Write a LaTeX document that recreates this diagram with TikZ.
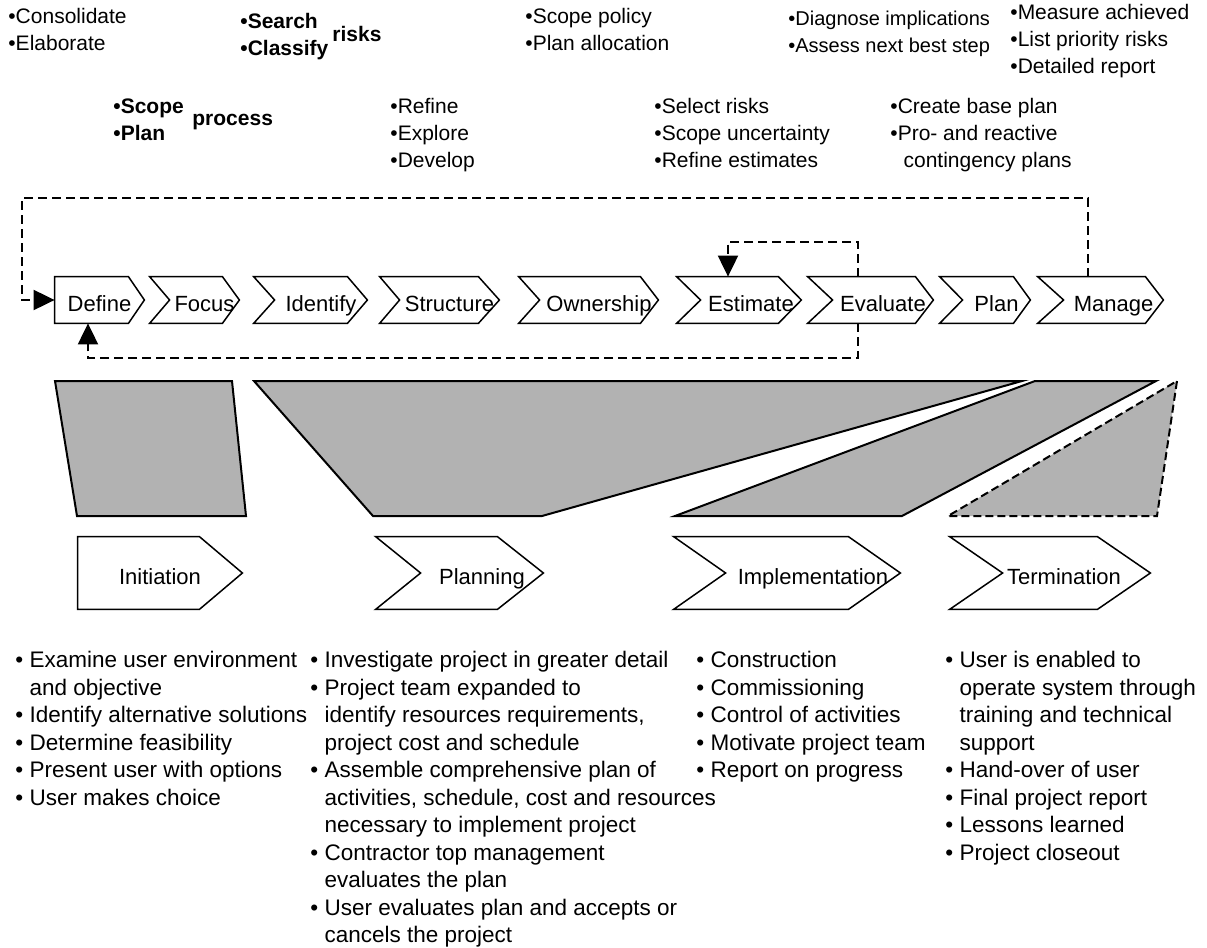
\documentclass[tikz,border=0pt]{standalone}
\usepackage{fontspec}
\setmainfont{Liberation Sans}
\usepackage{tikz}
\usetikzlibrary{arrows.meta}
\usepackage{xcolor}
\definecolor{phaseGray}{RGB}{178, 178, 178}

\begin{document}
\begin{tikzpicture}[
    x=0.5pt, y=-0.5pt,
    every node/.style={inner sep=0pt},
    chev/.style={minimum height=23pt, minimum width=#1, text height=11pt, text depth=0pt, font=\fontsize{11}{13}\selectfont},
    phasebox/.style={minimum height=36pt, minimum width=#1, text height=11pt, text depth=0pt, font=\fontsize{11}{13}\selectfont},
    chevline/.style={draw=black, line width=0.75pt, line join=miter},
    wedge/.style={draw=black, fill=phaseGray, line width=1pt, line join=miter},
    tasks/.style={anchor=north west, align=left, font=\fontsize{10.5}{13.5}\selectfont},
    duties/.style={anchor=north west, align=left, font=\fontsize{11.25}{13.75}\selectfont},
    feedback/.style={draw=black, line width=1pt, dash pattern=on 4.5pt off 2.5pt, -{Triangle[length=10.5pt, width=10pt]}},
]
\useasboundingbox (0,0) rectangle (1207,948);
% RISK MANAGEMENT TASKS
\node[tasks] (consolidate) at (8, 8) {•Consolidate\\•Elaborate};
\node[tasks, font=\fontsize{10.5}{13.5}\selectfont\bfseries] (search) at (240, 13) {•Search\\•Classify};
\node[anchor=base west, font=\fontsize{10.5}{13.5}\selectfont\bfseries] (risks) at (332, 41) {risks};
\node[tasks] (policy) at (525, 8) {•Scope policy\\•Plan allocation};
\node[tasks, font=\fontsize{10}{13.5}\selectfont] (diagnose) at (788, 11) {•Diagnose implications\\•Assess next best step};
\node[tasks] (measure) at (1010, 4) {•Measure achieved\\•List priority risks\\•Detailed report};
\node[tasks, font=\fontsize{10.5}{13.5}\selectfont\bfseries] (scope) at (113, 98) {•Scope\\•Plan};
\node[anchor=base west, font=\fontsize{10.5}{13.5}\selectfont\bfseries] (process) at (192, 125) {process};
\node[tasks] (refine) at (390, 98) {•Refine\\•Explore\\•Develop};
\node[tasks] (select) at (654, 98) {•Select risks\\•Scope uncertainty\\•Refine estimates};
\node[tasks] (create) at (890, 98) {•Create base plan\\•Pro- and reactive\\\phantom{•} contingency plans};
% RISK PROCESS PHASES
\node[chev=44.5pt] (define) at (99.5, 300) {Define};
\node[chev=44.5pt] (focus) at (194.5, 300) {\hspace*{10pt}Focus};
\node[chev=56.5pt] (identify) at (310.5, 300) {\hspace*{10.5pt}Identify};
\node[chev=59.5pt] (structure) at (439.5, 300) {\hspace*{10pt}Structure};
\node[chev=69.5pt] (ownership) at (588.5, 300) {\hspace*{10.5pt}Ownership};
\node[chev=62pt] (estimate) at (739, 300) {\hspace*{12pt}Estimate};
\node[chev=62.5pt] (evaluate) at (870.5, 300) {\hspace*{12.5pt}Evaluate};
\node[chev=45pt] (plan) at (985, 300) {\hspace*{11.5pt}Plan};
\node[chev=62.5pt] (manage) at (1100.5, 300) {\hspace*{13pt}Manage};
\draw[chevline] (define.north west) -- ([xshift=-8pt]define.north east) -- (define.east) -- ([xshift=-8pt]define.south east) -- (define.south west) -- cycle;
\draw[chevline] (focus.north west) -- ([xshift=-8.5pt]focus.north east) -- (focus.east) -- ([xshift=-8.5pt]focus.south east) -- (focus.south west) -- ([xshift=10pt]focus.west) -- cycle;
\draw[chevline] (identify.north west) -- ([xshift=-10pt]identify.north east) -- (identify.east) -- ([xshift=-10pt]identify.south east) -- (identify.south west) -- ([xshift=10.5pt]identify.west) -- cycle;
\draw[chevline] (structure.north west) -- ([xshift=-10.5pt]structure.north east) -- (structure.east) -- ([xshift=-10.5pt]structure.south east) -- (structure.south west) -- ([xshift=10pt]structure.west) -- cycle;
\draw[chevline] (ownership.north west) -- ([xshift=-9pt]ownership.north east) -- (ownership.east) -- ([xshift=-9pt]ownership.south east) -- (ownership.south west) -- ([xshift=10.5pt]ownership.west) -- cycle;
\draw[chevline] (estimate.north west) -- ([xshift=-11.5pt]estimate.north east) -- (estimate.east) -- ([xshift=-11.5pt]estimate.south east) -- (estimate.south west) -- ([xshift=12pt]estimate.west) -- cycle;
\draw[chevline] (evaluate.north west) -- ([xshift=-9pt]evaluate.north east) -- (evaluate.east) -- ([xshift=-9pt]evaluate.south east) -- (evaluate.south west) -- ([xshift=12.5pt]evaluate.west) -- cycle;
\draw[chevline] (plan.north west) -- ([xshift=-8.5pt]plan.north east) -- (plan.east) -- ([xshift=-8.5pt]plan.south east) -- (plan.south west) -- ([xshift=11.5pt]plan.west) -- cycle;
\draw[chevline] (manage.north west) -- ([xshift=-9pt]manage.north east) -- (manage.east) -- ([xshift=-9pt]manage.south east) -- (manage.south west) -- ([xshift=13pt]manage.west) -- cycle;
% FEEDBACK LOOPS
\coordinate (looptop) at (22, 198);
\draw[feedback] ([xshift=-6.25pt]manage.north) |- (looptop) |- (define.west);
\draw[feedback] ([xshift=-6.25pt]evaluate.north) -- ++(0,-35) -| ([xshift=-5.5pt]estimate.north);
\draw[feedback] ([xshift=-6.25pt]evaluate.south) -- ++(0,35) -| ([xshift=-5.75pt]define.south);
% EFFORT WEDGES
\draw[wedge] (55,381) -- (232,381) -- (246,516) -- (77,516) -- cycle;
\draw[wedge] (254,381) -- (1022,381) -- (542,516) -- (373,516) -- cycle;
\draw[wedge] (1035,381) -- (1156,381) -- (902,516) -- (675,516) -- cycle;
\draw[wedge, dash pattern=on 4pt off 2pt] (1177,381) -- (1157,516) -- (948,516) -- cycle;
% PROJECT PHASES
\node[phasebox=82pt] (initiation) at (160, 573) {Initiation};
\node[phasebox=83.5pt] (planning) at (459.5, 573) {\hspace*{22.5pt}Planning};
\node[phasebox=113pt] (implementation) at (787, 573) {\hspace*{26pt}Implementation};
\node[phasebox=100pt] (termination) at (1050, 573) {\hspace*{14pt}Termination};
\draw[chevline] (initiation.north west) -- ([xshift=-21.5pt]initiation.north east) -- (initiation.east) -- ([xshift=-21.5pt]initiation.south east) -- (initiation.south west) -- cycle;
\draw[chevline] (planning.north west) -- ([xshift=-23pt]planning.north east) -- (planning.east) -- ([xshift=-23pt]planning.south east) -- (planning.south west) -- ([xshift=22.5pt]planning.west) -- cycle;
\draw[chevline] (implementation.north west) -- ([xshift=-26pt]implementation.north east) -- (implementation.east) -- ([xshift=-26pt]implementation.south east) -- (implementation.south west) -- ([xshift=26pt]implementation.west) -- cycle;
\draw[chevline] (termination.north west) -- ([xshift=-26.5pt]termination.north east) -- (termination.east) -- ([xshift=-26.5pt]termination.south east) -- (termination.south west) -- ([xshift=26.5pt]termination.west) -- cycle;
% PHASE ACTIVITIES
\node[duties] (initiationlist) at (15, 651) {• Examine user environment\\\phantom{• }and objective\\• Identify alternative solutions\\• Determine feasibility\\• Present user with options\\• User makes choice};
\node[duties] (planninglist) at (310, 651) {• Investigate project in greater detail\\• Project team expanded to\\\phantom{• }identify resources requirements,\\\phantom{• }project cost and schedule\\• Assemble comprehensive plan of\\\phantom{• }activities, schedule, cost and resources\\\phantom{• }necessary to implement project\\• Contractor top management\\\phantom{• }evaluates the plan\\• User evaluates plan and accepts or\\\phantom{• }cancels the project};
\node[duties] (implementationlist) at (696, 651) {• Construction\\• Commissioning\\• Control of activities\\• Motivate project team\\• Report on progress};
\node[duties] (terminationlist) at (945, 651) {• User is enabled to\\\phantom{• }operate system through\\\phantom{• }training and technical\\\phantom{• }support\\• Hand-over of user\\• Final project report\\• Lessons learned\\• Project closeout};
\end{tikzpicture}
\end{document}
